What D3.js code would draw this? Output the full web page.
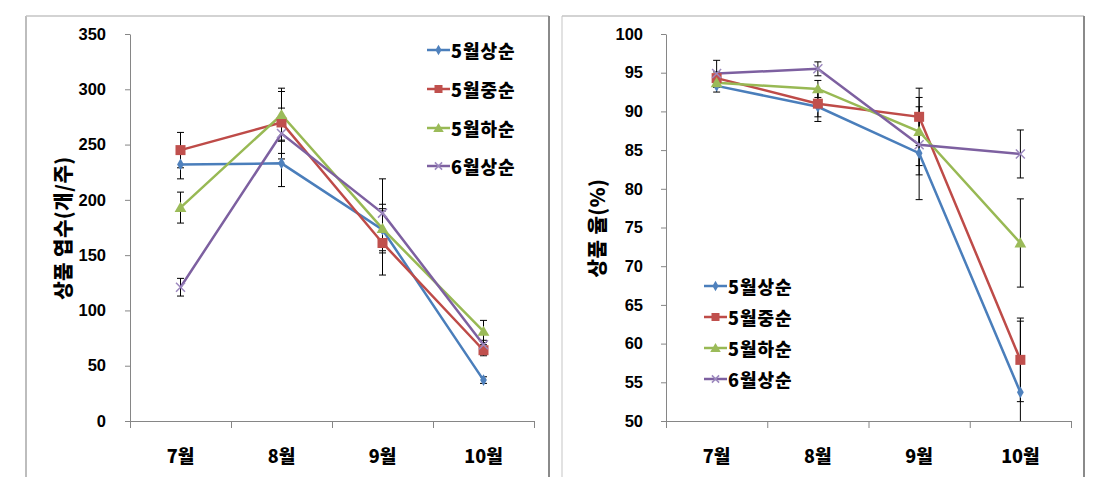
<!DOCTYPE html>
<html><head><meta charset="utf-8">
<script src="https://cdn.jsdelivr.net/npm/d3@7"></script>
<style>
html,body{margin:0;padding:0;background:#fff;}
svg{display:block;}
text{font-family:"Liberation Sans","Noto Sans CJK KR",sans-serif;font-weight:bold;fill:#000;}
.kr{font-family:"Noto Sans CJK KR","Liberation Sans",sans-serif;font-weight:900;}
</style></head>
<body>
<svg id="chart" width="1119" height="488"></svg>
<script>
// ---- data ----
const categories = ["7월", "8월", "9월", "10월"];
const seriesNames = ["5월상순", "5월중순", "5월하순", "6월상순"];

// left panel: 상품 엽수 (개/주)
const leafS1 = [232, 233, 173, 37];
const leafS2 = [245, 270, 161, 64];
const leafS3 = [193, 277, 174, 81];
const leafS4 = [121, 260, 188, 69];
const leafE1 = [13, 21, 19, 3];
const leafE2 = [16, 28, 29, 5];
const leafE3 = [14, 24, 22, 10];
const leafE4 = [8, 23, 31, 4];
const leafTicks = [0, 50, 100, 150, 200, 250, 300, 350];

// right panel: 상품 율 (%)
const rateS1 = [93.3, 90.6, 84.6, 53.7];
const rateS2 = [94.3, 91.0, 89.3, 57.9];
const rateS3 = [93.7, 92.9, 87.4, 73.0];
const rateS4 = [94.9, 95.5, 85.7, 84.5];
const rateE1 = [0.8, 1.9, 6.0, 9.2];
const rateE2 = [0.8, 1.7, 3.7, 5.4];
const rateE3 = [0.6, 1.1, 4.4, 5.7];
const rateE4 = [1.7, 0.9, 3.9, 3.1];
const rateTicks = [50, 55, 60, 65, 70, 75, 80, 85, 90, 95, 100];

const colors = ["#4A7EBB", "#BE4B48", "#98B954", "#7D60A0"];
const markerFill = ["#4F81BD", "#C0504D", "#9BBB59", "#9C88BE"];
const markers = ["diamond", "square", "triangle", "cross"];

const svg = d3.select("#chart");

function drawMarker(g, type, x, y, i, s) {
  s = s || 1;
  if (type === "diamond") {
    g.append("path").attr("d", d3.symbol(d3.symbolDiamond, 40 * s)()).attr("transform", `translate(${x},${y})`).attr("fill", markerFill[i]);
  } else if (type === "square") {
    g.append("rect").attr("x", x - 5 * s).attr("y", y - 5 * s).attr("width", 10 * s).attr("height", 10 * s).attr("fill", markerFill[i]);
  } else if (type === "triangle") {
    g.append("path").attr("d", d3.symbol(d3.symbolTriangle, 60 * s)()).attr("transform", `translate(${x},${y + 1})`).attr("fill", markerFill[i]);
  } else {
    const r = 4.5 * s;
    g.append("path").attr("d", `M${x - r},${y - r}L${x + r},${y + r}M${x - r},${y + r}L${x + r},${y - r}`)
      .attr("stroke", markerFill[i]).attr("stroke-width", 1.5).attr("fill", "none");
  }
}

function panel(opt) {
  const g = svg.append("g");
  // frame
  g.append("line").attr("x1", opt.frame[0]).attr("x2", opt.frame[0]).attr("y1", 16).attr("y2", 477).attr("stroke", opt.leftFrame).attr("stroke-width", 2);
  g.append("line").attr("x1", opt.frame[0]).attr("x2", opt.frame[1]).attr("y1", 16).attr("y2", 16).attr("stroke", "#C4C4C4").attr("stroke-width", 1.5);
  g.append("line").attr("x1", opt.frame[1]).attr("x2", opt.frame[1]).attr("y1", 16).attr("y2", 477).attr("stroke", "#8A8A8A").attr("stroke-width", 2);

  const x = d3.scaleBand().domain(categories).range([opt.x0, opt.x1]).padding(0);
  const y = d3.scaleLinear().domain(opt.domain).range([421, 34]);
  const cx = d => x(d) + x.bandwidth() / 2;

  // y axis
  const ya = g.append("g").attr("transform", `translate(${opt.x0},0)`)
    .call(d3.axisLeft(y).tickValues(opt.ticks).tickSize(5).tickPadding(opt.pad).tickSizeOuter(0));
  ya.select(".domain").attr("stroke", "#868686");
  ya.selectAll(".tick line").attr("stroke", "#868686");
  ya.selectAll(".tick text").attr("font-size", 16.5).attr("font-weight", "bold").attr("fill", "#000")
    .style("font-family", "'Liberation Sans', sans-serif");

  // x axis
  g.append("line").attr("x1", opt.x0 - 5).attr("x2", opt.x1).attr("y1", 421.5).attr("y2", 421.5).attr("stroke", "#868686");
  const edges = categories.map(c => x(c)).concat([opt.x1]);
  g.selectAll(".xt").data(edges).enter().append("line")
    .attr("x1", d => d + 0.5).attr("x2", d => d + 0.5).attr("y1", 421).attr("y2", 428).attr("stroke", "#868686");
  g.selectAll(".xl").data(categories).enter().append("text").attr("class", "kr")
    .attr("x", d => cx(d)).attr("y", 455).attr("text-anchor", "middle").attr("dominant-baseline", "central")
    .attr("font-size", 18).text(d => d);

  // y title
  g.append("text").attr("class", "kr").attr("transform", `translate(${opt.titleX},228) rotate(-90)`)
    .attr("text-anchor", "middle").attr("dominant-baseline", "central").attr("font-size", 20)
    .attr("letter-spacing", "0.5px").text(opt.title);

  const clipId = "clip" + opt.x0;
  g.append("clipPath").attr("id", clipId).append("rect").attr("x", opt.x0).attr("y", 20).attr("width", opt.x1 - opt.x0).attr("height", 401);
  const plot = g.append("g").attr("clip-path", `url(#${clipId})`);

  // error bars
  opt.series.forEach((vals, i) => {
    vals.forEach((v, j) => {
      const e = opt.errs[i][j];
      const px = cx(categories[j]);
      plot.append("line").attr("x1", px).attr("x2", px).attr("y1", y(v - e)).attr("y2", y(v + e)).attr("stroke", "#000").attr("stroke-width", 1);
      [v - e, v + e].forEach(w => {
        plot.append("line").attr("x1", px - 3.5).attr("x2", px + 3.5).attr("y1", y(w)).attr("y2", y(w)).attr("stroke", "#000").attr("stroke-width", 1);
      });
    });
  });

  // lines and markers
  const line = d3.line().x((d, j) => cx(categories[j])).y(d => y(d));
  opt.series.forEach((vals, i) => {
    plot.append("path").datum(vals).attr("d", line).attr("fill", "none").attr("stroke", colors[i]).attr("stroke-width", 2.5);
  });
  opt.series.forEach((vals, i) => {
    vals.forEach((v, j) => drawMarker(plot, markers[i], cx(categories[j]), y(v), i));
  });

  // legend
  seriesNames.forEach((n, i) => {
    const ly = opt.legY[i];
    g.append("line").attr("x1", opt.legX).attr("x2", opt.legX + 23).attr("y1", ly).attr("y2", ly).attr("stroke", colors[i]).attr("stroke-width", 2.5);
    drawMarker(g, markers[i], opt.legX + 11.5, ly, i, 0.8);
    g.append("text").attr("class", "kr").attr("x", opt.legX + 24).attr("y", ly).attr("dominant-baseline", "central")
      .attr("font-size", 18).attr("letter-spacing", "1px").text(n);
  });
}

panel({
  frame: [26, 549], leftFrame: "#BDBDBD",
  x0: 130, x1: 534, domain: [0, 350], ticks: leafTicks, pad: 19,
  title: "상품 엽수(개/주)", titleX: 62,
  series: [leafS1, leafS2, leafS3, leafS4], errs: [leafE1, leafE2, leafE3, leafE4],
  legX: 427, legY: [50, 89, 128, 166]
});
panel({
  frame: [562, 1084], leftFrame: "#E2E2E2",
  x0: 666, x1: 1071, domain: [50, 100], ticks: rateTicks, pad: 18,
  title: "상품 율(%)", titleX: 596,
  series: [rateS1, rateS2, rateS3, rateS4], errs: [rateE1, rateE2, rateE3, rateE4],
  legX: 704, legY: [286, 317, 348, 379]
});
</script>
</body></html>
